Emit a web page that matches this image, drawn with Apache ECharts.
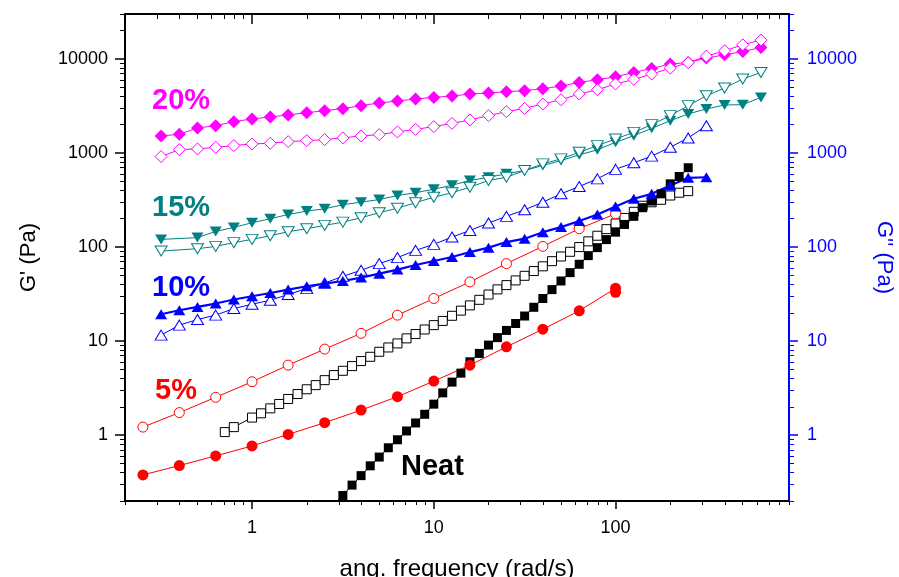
<!DOCTYPE html>
<html><head><meta charset="utf-8">
<script src="https://cdn.jsdelivr.net/npm/echarts@6/dist/echarts.min.js"></script>
<style>html,body{margin:0;padding:0;background:#fff}#c{width:899px;height:577px}</style>
</head><body><div id="c"></div>
<script>
// ---------- DATA ----------
const freq20 = [0.316,0.398,0.501,0.631,0.794,1,1.26,1.58,2,2.51,3.16,3.98,5.01,6.31,7.94,10,12.6,15.8,20,25.1,31.6,39.8,50.1,63.1,79.4,100,126,158,200,251,316,398,501,631];
const gp20  = [1518,1578,1846,1950,2153,2300,2416,2536,2680,2818,2958,3184,3398,3566,3748,3898,4030,4234,4340,4480,4590,4820,5140,5620,6000,6460,7180,7910,8810,9160,10190,11050,11990,13200];
const gpp20 = [916,1087,1104,1150,1198,1248,1267,1320,1352,1387,1445,1518,1567,1674,1784,1905,2065,2243,2494,2749,2979,3318,3683,4234,4700,5410,6050,6900,7980,9100,10700,12190,14120,15850];

const freq15 = [0.316,0.501,0.631,0.794,1,1.26,1.58,2,2.51,3.16,3.98,5.01,6.31,7.94,10,12.6,15.8,20,25.1,31.6,39.8,50.1,63.1,79.4,100,126,158,200,251,316,398,501,631];
const gp15  = [120.7,126,146.6,161.7,181.5,200,222,241,255,282,300,320,353,378,412,454,510,552,600,651,735,830,955,1079,1298,1528,1828,2206,2600,2937,3236,3260,3898];
const gpp15 = [90.7,96,101.7,111.4,120.7,132,145.7,156.7,170,184,205,231.6,259,296,339,378,433,510,552,651,766,865,1017,1198,1410,1657,2000,2494,3184,4060,4900,6110,7180];

const freq10 = [0.316,0.398,0.501,0.631,0.794,1,1.26,1.58,2,2.51,3.16,3.98,5.01,6.31,7.94,10,12.6,15.8,20,25.1,31.6,39.8,50.1,63.1,79.4,100,126,158,200,251,316];
const gp10  = [19.3,21.3,23.1,25.1,27.7,30,32.5,35.3,38.3,40.9,43.6,47.4,52.2,57.6,64.4,71.1,78.4,88.5,98.6,113,122.7,144,163,189,222,270,326,368,451,544,552];
const gpp10 = [11.6,14.8,17,18.9,22.2,24.7,27.2,31.3,36.2,41.5,48.9,56.6,66.7,77.3,92.2,106.9,127.7,150,180,212,249,300,368,440,531,670,787,925,1150,1445,1950];

const freq5f = [0.251,0.398,0.631,1,1.58,2.51,3.98,6.31,10,15.8,25.1,39.8,63.1,100,100];
const gp5    = [0.379,0.476,0.603,0.77,1.02,1.36,1.85,2.57,3.76,5.56,8.7,13.4,21,36.5,33];
const freq5o = [0.251,0.398,0.631,1,1.58,2.51,3.98,6.31,10,15.8,25.1,39.8,63.1,100];
const gpp5   = [1.22,1.74,2.53,3.7,5.56,8.23,12.1,18.9,28.4,42.6,66.7,101.7,156.7,226];

const freqNf = [2.82,3.16,3.55,3.98,4.47,5.01,5.62,6.31,7.08,7.94,8.91,10,11.2,12.6,14.1,15.8,17.8,20,22.4,25.1,28.2,31.6,35.5,39.8,44.7,50.1,56.2,63.1,70.8,79.4,89.1,100,112,126,141,158,178,200,224,251];
const gpN    = [0.186,0.229,0.295,0.372,0.473,0.586,0.736,0.895,1.11,1.35,1.67,2.14,2.82,3.67,4.57,6.03,7.41,9.08,10.9,13.0,15.4,18.5,22.9,28.4,35.3,43.6,53.5,65.6,81.1,98.6,120,144,174,212,262,308,368,470,562,697];
const freqNo = [0.708,0.794,1,1.12,1.26,1.41,1.58,1.78,2,2.24,2.51,2.82,3.16,3.55,3.98,4.47,5.01,5.62,6.31,7.08,7.94,8.91,10,11.2,12.6,14.1,15.8,17.8,20,22.4,25.1,28.2,31.6,35.5,39.8,44.7,50.1,56.2,63.1,70.8,79.4,89.1,100,112,126,141,158,178,200,224,251];
const gppN   = [1.08,1.22,1.54,1.71,1.93,2.15,2.43,2.74,3.08,3.41,3.85,4.36,4.84,5.43,6.14,6.82,7.71,8.57,9.46,10.7,11.9,13.3,14.8,16.4,18.6,21.1,24.0,27.5,31.3,35.5,39.4,44.2,49.5,55.6,62.4,70.8,79.4,89.1,100,115,132,155,178,204,237,275,299,318,353,378,393];

// axis ticks
const xMajor = [1,10,100];
const xMinor = [0.2,0.3,0.4,0.5,0.6,0.7,0.8,0.9,2,3,4,5,6,7,8,9,20,30,40,50,60,70,80,90,200,300,400,500,600,700,800,900];
const yMajor = [1,10,100,1000,10000];
const yMinor = [0.2,0.3,0.4,0.5,0.6,0.7,0.8,0.9,2,3,4,5,6,7,8,9,20,30,40,50,60,70,80,90,200,300,400,500,600,700,800,900,2000,3000,4000,5000,6000,7000,8000,9000,20000,30000];

const labels = [
  {text:'20%', color:'#FF00FF', x:152, y:102},
  {text:'15%', color:'#008080', x:152, y:209},
  {text:'10%', color:'#0000FF', x:152, y:289},
  {text:'5%',  color:'#FF0000', x:155, y:392},
  {text:'Neat',color:'#000000', x:401, y:468}
];

// ---------- CHART ----------
const zip = (a,b) => a.map((v,i)=>[v,b[i]]);
const FONT = 'Liberation Sans, Arial, sans-serif';
const plain = v => String(Math.round(v));

function ser(x, y, color, symbol, size, filled, yIdx, lw, rot){
  return {
    type:'line', xAxisIndex:0, yAxisIndex:yIdx, data: zip(x,y),
    symbol: symbol, symbolSize: size, symbolRotate: rot||0, showAllSymbol:true,
    lineStyle:{color:color, width:lw||1},
    itemStyle: filled ? {color:color, borderColor:color, borderWidth:0}
                      : {color:'#ffffff', borderColor:color, borderWidth:1},
    emphasis:{disabled:true}, silent:true, clip:true, z: 3
  };
}

const xBase = {type:'log', logBase:10, min:0.2, max:900, splitLine:{show:false}, minorTick:{show:false}};
const yBase = {type:'log', logBase:10, min:0.2, max:30000, splitLine:{show:false}, minorTick:{show:false}};

const option = {
  animation:false,
  backgroundColor:'#ffffff',
  grid:{left:125, right:110, top:14, bottom:76, containLabel:false, outerBoundsMode:'none'},
  xAxis:[
    Object.assign({}, xBase, {position:'bottom',
      axisLine:{show:true, lineStyle:{color:'#000', width:2}},
      axisTick:{show:true, inside:false, length:8, customValues:xMajor, lineStyle:{color:'#000', width:1.5}},
      axisLabel:{show:true, customValues:xMajor, formatter:plain, color:'#000', fontSize:18, fontFamily:FONT, margin:18},
      name:'ang. frequency (rad/s)', nameLocation:'middle', nameGap:56,
      nameTextStyle:{color:'#000', fontSize:24, fontFamily:FONT}}),
    Object.assign({}, xBase, {position:'top',
      axisLine:{show:true, lineStyle:{color:'#000', width:2}},
      axisTick:{show:true, inside:true, length:10, customValues:xMajor, lineStyle:{color:'#000', width:1.5}},
      axisLabel:{show:false}}),
    Object.assign({}, xBase, {position:'bottom',
      axisLine:{show:false},
      axisTick:{show:true, inside:false, length:4, customValues:xMinor, lineStyle:{color:'#000', width:1}},
      axisLabel:{show:false}}),
    Object.assign({}, xBase, {position:'top',
      axisLine:{show:false},
      axisTick:{show:true, inside:true, length:5, customValues:xMinor, lineStyle:{color:'#000', width:1}},
      axisLabel:{show:false}})
  ],
  yAxis:[
    Object.assign({}, yBase, {position:'left',
      axisLine:{show:true, lineStyle:{color:'#000', width:2}},
      axisTick:{show:true, inside:false, length:10, customValues:yMajor, lineStyle:{color:'#000', width:1.5}},
      axisLabel:{show:true, customValues:yMajor, formatter:plain, color:'#000', fontSize:18, fontFamily:FONT, margin:17},
      name:"G' (Pa)", nameLocation:'middle', nameGap:85, nameRotate:90,
      nameTextStyle:{color:'#000', fontSize:22, fontFamily:FONT}}),
    Object.assign({}, yBase, {position:'right',
      axisLine:{show:true, lineStyle:{color:'#0000FF', width:2}},
      axisTick:{show:true, inside:false, length:9, customValues:yMajor, lineStyle:{color:'#0000FF', width:1.5}},
      axisLabel:{show:true, customValues:yMajor, formatter:plain, color:'#0000FF', fontSize:18, fontFamily:FONT, margin:18},
      name:"G'' (Pa)", nameLocation:'middle', nameGap:84, nameRotate:-90,
      nameTextStyle:{color:'#0000FF', fontSize:22, fontFamily:FONT}}),
    Object.assign({}, yBase, {position:'left',
      axisLine:{show:false},
      axisTick:{show:true, inside:false, length:5, customValues:yMinor, lineStyle:{color:'#000', width:1}},
      axisLabel:{show:false}}),
    Object.assign({}, yBase, {position:'right',
      axisLine:{show:false},
      axisTick:{show:true, inside:false, length:5, customValues:yMinor, lineStyle:{color:'#0000FF', width:1}},
      axisLabel:{show:false}})
  ],
  series:[
    ser(freqNo, gppN, '#000000', 'rect', 9, false, 1),
    ser(freqNf, gpN,  '#000000', 'rect', 9, true, 0),
    ser(freq5o, gpp5, '#FF0000', 'circle', 10, false, 1),
    ser(freq5f, gp5,  '#FF0000', 'circle', 11, true, 0),
    ser(freq10, gpp10,'#0000FF', 'triangle', [12,10], false, 1),
    ser(freq10, gp10, '#0000FF', 'triangle', [12,10], true, 0, 2.2),
    ser(freq15, gp15, '#008080', 'triangle', [12,10], true, 0, 1, 180),
    ser(freq15, gpp15,'#008080', 'triangle', [12,10], false, 1, 1, 180),
    ser(freq20, gp20, '#FF00FF', 'diamond', 13, true, 0),
    ser(freq20, gpp20,'#FF00FF', 'diamond', 12, false, 1)
  ],
  graphic: labels.map(l => ({
    type:'text', left:l.x, top:l.y - 16, z:10, silent:true,
    style:{text:l.text, fill:l.color, font:'bold 29px ' + FONT}
  }))
};

const chart = echarts.init(document.getElementById('c'), null, {renderer:'canvas'});
chart.setOption(option);
</script>
</body></html>
